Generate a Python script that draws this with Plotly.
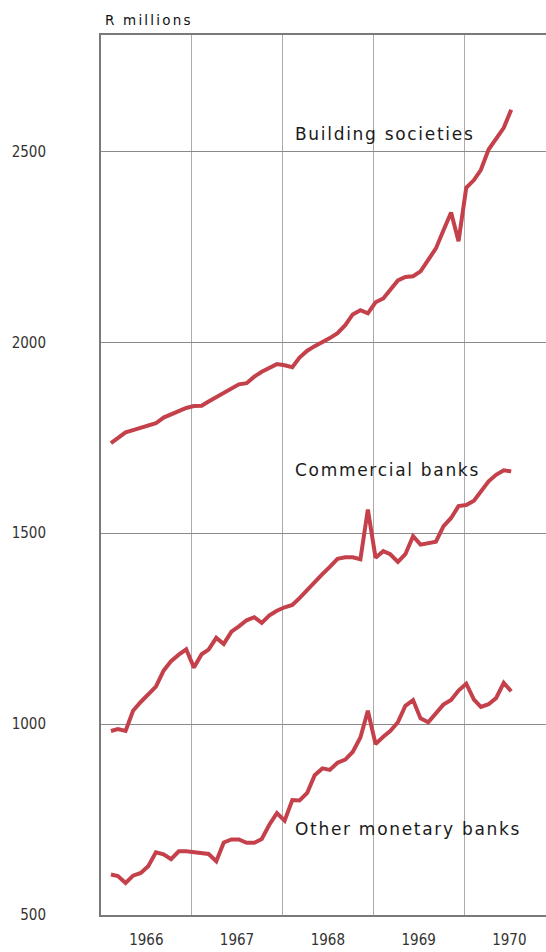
import pandas as pd
import plotly.graph_objects as go

# Monthly observations, Feb 1966 .. Jul 1970 (54 months)
months = pd.date_range("1966-02-01", periods=54, freq="MS") + pd.Timedelta(days=9)

building_societies = [
    1736, 1750, 1764, 1770, 1776, 1781, 1788, 1803, 1811, 1820, 1828,
    1833, 1834, 1845, 1857, 1868, 1880, 1890, 1893, 1910, 1923, 1933, 1943,
    1940, 1935, 1960, 1978, 1990, 2000, 2011, 2024, 2045, 2073, 2084, 2076,
    2105, 2115, 2138, 2162, 2171, 2173, 2186, 2215, 2246, 2293, 2340, 2265,
    2405, 2425, 2452, 2505, 2535, 2562, 2609,
]
commercial_banks = [
    982, 987, 982, 1035, 1058, 1077, 1098, 1140, 1165, 1182, 1196,
    1148, 1183, 1195, 1226, 1210, 1242, 1256, 1272, 1280, 1265, 1285, 1297,
    1306, 1312, 1330, 1352, 1373, 1393, 1412, 1433, 1437, 1437, 1432, 1562,
    1436, 1453, 1445, 1425, 1445, 1492, 1470, 1474, 1478, 1518, 1540, 1571,
    1574, 1585, 1610, 1636, 1653, 1665, 1662,
]
other_monetary_banks = [
    606, 602, 584, 603, 610, 628, 664, 659, 646, 667, 667,
    665, 664, 660, 641, 690, 698, 698, 689, 689, 699, 737, 767,
    747, 801, 800, 820, 866, 884, 880, 899, 907, 927, 965, 1035,
    948, 967, 982, 1005, 1048, 1063, 1015, 1005, 1030, 1051, 1063, 1088,
    1106, 1064, 1045, 1052, 1068, 1108, 1086,
]

series_names = ["Building societies", "Commercial banks", "Other monetary banks"]
series_values = [building_societies, commercial_banks, other_monetary_banks]
label_y = [2547, 1666, 726]

y_ticks = [500, 1000, 1500, 2000, 2500]

LINE = "#c4404a"
COND = "Liberation Sans Narrow, DejaVu Sans Condensed, Roboto Condensed, Arial Narrow, sans-serif"
LABEL_FONT = "DejaVu Sans, Verdana, sans-serif"

fig = go.Figure()
for name, vals in zip(series_names, series_values):
    fig.add_trace(go.Scatter(x=months, y=vals, mode="lines", name=name,
                             line=dict(color=LINE, width=4), showlegend=False))

for name, ly in zip(series_names, label_y):
    fig.add_annotation(x=0.431, xref="paper", y=ly, yref="y",
                       text='<span style="letter-spacing:1.7px">' + name + "</span>",
                       showarrow=False, xanchor="left", yanchor="middle",
                       font=dict(family=LABEL_FONT, size=17, color="#1a1a1a"))

fig.add_annotation(x=0.005, xref="paper", y=1, yref="paper",
                   text='<span style="letter-spacing:2.2px">R millions</span>',
                   showarrow=False, xanchor="left", yanchor="bottom", yshift=5,
                   font=dict(family=LABEL_FONT, size=13.5, color="#111"))

fig.update_layout(
    width=546, height=952,
    margin=dict(l=101, r=0, t=35, b=37),
    paper_bgcolor="white", plot_bgcolor="white",
)
fig.update_xaxes(
    type="date", range=["1966-01-01", "1970-11-27"], automargin=False,
    dtick="M12", tick0="1966-01-01", tickformat="%Y", ticklabelmode="period",
    showgrid=True, gridcolor="#ababab", gridwidth=1,
    showline=True, linecolor="#7a7a7a", linewidth=2, mirror=True,
    ticks="", ticklabelstandoff=10,
    tickfont=dict(family=COND, size=15, color="#333"),
    zeroline=False,
)
fig.update_yaxes(
    range=[500, 2805], tickvals=y_ticks, automargin=False,
    showgrid=True, gridcolor="#8a8a8a", gridwidth=1,
    showline=True, linecolor="#7a7a7a", linewidth=2,
    ticks="", ticklabelstandoff=50,
    tickfont=dict(family=COND, size=15, color="#333"),
    zeroline=False,
)

fig.write_html(
    "out.html",
    config={"displayModeBar": False},
    post_script="document.body.style.margin='0';document.body.style.overflow='hidden';",
)
